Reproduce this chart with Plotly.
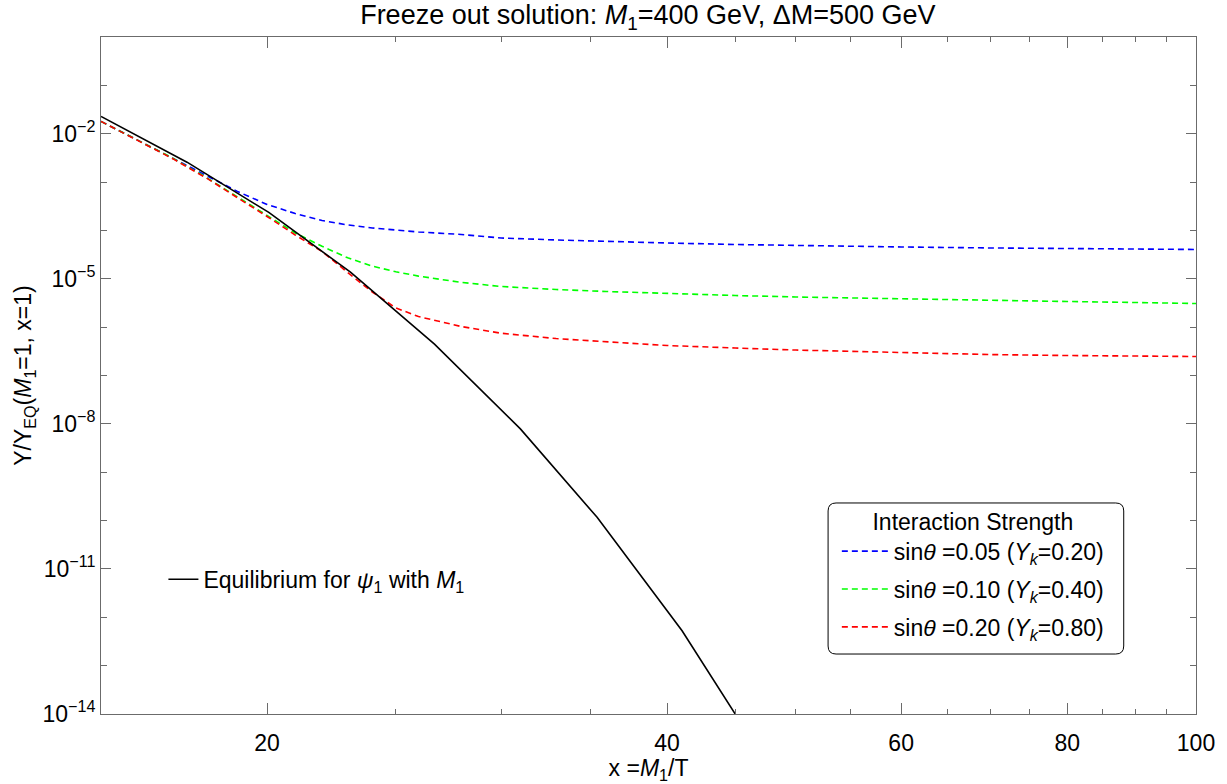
import plotly.graph_objects as go

# ---- data ----
x_eq = [15.0, 17.41, 20.06, 23.11, 26.73, 31.02, 35.43, 41.05, 47.5]
y_eq = [2.28e-2, 2.58e-3, 2.355e-4, 1.368e-5, 4.44e-7, 7.87e-9, 1.167e-10, 5.28e-13, 9.8e-16]

x_fo = [15, 16, 17, 18, 19, 20, 21, 22, 23, 24, 25, 26, 28, 30, 33, 36, 40, 45, 50, 60, 70, 80, 90, 100]
y_blue = [1.80e-2, 7.27e-3, 3.16e-3, 1.372e-3, 6.40e-4, 3.44e-4, 2.24e-4, 1.607e-4, 1.297e-4, 1.124e-4,
          1.022e-4, 9.29e-5, 8.25e-5, 6.98e-5, 6.35e-5, 5.91e-5, 5.50e-5, 5.12e-5, 4.88e-5, 4.55e-5,
          4.34e-5, 4.23e-5, 4.13e-5, 4.04e-5]
y_green = [1.80e-2, 7.27e-3, 3.08e-3, 1.247e-3, 4.90e-4, 2.04e-4, 8.86e-5, 4.70e-5, 2.71e-5, 1.83e-5,
           1.395e-5, 1.137e-5, 8.42e-6, 6.93e-6, 6.00e-6, 5.46e-6, 4.96e-6, 4.51e-6, 4.20e-6, 3.82e-6,
           3.56e-6, 3.39e-6, 3.23e-6, 3.08e-6]
y_red = [1.80e-2, 7.10e-3, 3.01e-3, 1.218e-3, 4.81e-4, 1.945e-4, 8.05e-5, 3.67e-5, 1.349e-5, 5.33e-6,
         2.49e-6, 1.658e-6, 1.030e-6, 7.48e-7, 5.81e-7, 5.04e-7, 4.17e-7, 3.70e-7, 3.36e-7, 2.99e-7,
         2.71e-7, 2.59e-7, 2.53e-7, 2.47e-7]

series_names = [
    "sin<i>θ</i> =0.05 (<i>Y<sub>k</sub></i>=0.20)",
    "sin<i>θ</i> =0.10 (<i>Y<sub>k</sub></i>=0.40)",
    "sin<i>θ</i> =0.20 (<i>Y<sub>k</sub></i>=0.80)",
]
series_colors = ["#0000ff", "#00ff00", "#ff0000"]

x_tickvals = [20, 40, 60, 80, 100]
x_minor = [25, 30, 35, 45, 50, 55, 65, 70, 75, 85, 90, 95]
y_tickvals = [1e-14, 1e-11, 1e-8, 1e-5, 1e-2]
y_ticktext = ["10<sup>−14</sup>", "10<sup>−11</sup>", "10<sup>−8</sup>", "10<sup>−5</sup>", "10<sup>−2</sup>"]
y_minor = [1e-13, 1e-12, 1e-10, 1e-9, 1e-7, 1e-6, 1e-4, 1e-3, 1e-1]

FONT = "Liberation Sans, Arial, Helvetica, sans-serif"
FS = 23

fig = go.Figure()

for i, (ys, name, col) in enumerate(zip([y_blue, y_green, y_red], series_names, series_colors)):
    fig.add_trace(go.Scatter(x=x_fo, y=ys, mode="lines", name=name,
                             line=dict(color=col, width=1.6, dash="6px,4px"),
                             legend="legend", legendgroup=f"g{i}"))

fig.add_trace(go.Scatter(x=x_eq, y=y_eq, mode="lines",
                         name="Equilibrium for <i>ψ</i><sub>1</sub> with <i>M</i><sub>1</sub>",
                         line=dict(color="black", width=1.6), legend="legend2"))

axis_color = "#6b6b6b"
fig.update_layout(
    width=1227, height=784,
    margin=dict(l=101, r=31, t=37, b=70, autoexpand=False),
    paper_bgcolor="white", plot_bgcolor="white",
    font=dict(family=FONT, size=FS, color="black"),
    title=dict(text="Freeze out solution: <i>M</i><sub>1</sub>=400 GeV, ΔM=500 GeV",
               x=0.528, xanchor="center", y=0.981, yanchor="middle",
               font=dict(size=27, family=FONT)),
    showlegend=True,
    legend=dict(x=0.672, y=0.3165, xanchor="left", yanchor="top",
                title=dict(text="Interaction Strength", side="top center", font=dict(size=FS)),
                bgcolor="rgba(255,255,255,0)", borderwidth=0, itemwidth=47,
                font=dict(size=FS), tracegroupgap=5),
    legend2=dict(x=0.057, y=0.199, xanchor="left", yanchor="middle",
                 bgcolor="rgba(0,0,0,0)", borderwidth=0, font=dict(size=FS)),
)

fig.update_xaxes(
    type="log", range=[1.17609, 2.0], automargin=False,
    tickmode="array", tickvals=x_tickvals, ticktext=[str(v) for v in x_tickvals],
    ticks="inside", ticklen=11, tickwidth=1, tickcolor=axis_color,
    minor=dict(tickmode="array", tickvals=x_minor, ticks="inside", ticklen=5,
               tickcolor=axis_color, showgrid=False),
    showline=True, linecolor=axis_color, linewidth=1, mirror="ticks",
    showgrid=False, zeroline=False, ticklabelstandoff=8,
    tickfont=dict(size=FS),
    title=dict(text="x =<i>M</i><sub>1</sub>/T", font=dict(size=FS), standoff=15),
)
fig.update_yaxes(
    type="log", range=[-14, 0], automargin=False,
    tickmode="array", tickvals=y_tickvals, ticktext=y_ticktext,
    ticks="inside", ticklen=10, tickwidth=1, tickcolor=axis_color,
    minor=dict(tickmode="array", tickvals=y_minor, ticks="inside", ticklen=6,
               tickcolor=axis_color, showgrid=False),
    showline=True, linecolor=axis_color, linewidth=1, mirror="ticks",
    showgrid=False, zeroline=False, ticklabelstandoff=0,
    tickfont=dict(size=FS),
    title=dict(text="Y/Y<sub>EQ</sub>(<i>M</i><sub>1</sub>=1, x=1)", font=dict(size=FS), standoff=4),
)

# rounded legend frame (paper coords)
x0, x1 = 0.664, 0.934
y0, y1 = 0.0886, 0.3117
rx, ry = 0.0073, 0.0118
path = (f"M {x0+rx},{y1} L {x1-rx},{y1} Q {x1},{y1} {x1},{y1-ry} "
        f"L {x1},{y0+ry} Q {x1},{y0} {x1-rx},{y0} L {x0+rx},{y0} "
        f"Q {x0},{y0} {x0},{y0+ry} L {x0},{y1-ry} Q {x0},{y1} {x0+rx},{y1} Z")
fig.add_shape(type="path", path=path, xref="paper", yref="paper",
              line=dict(color="black", width=1), fillcolor="white", layer="below")

fig.write_html("out.html", config={"displayModeBar": False},
               post_script="document.body.style.margin='0px';document.body.style.overflow='hidden';")
